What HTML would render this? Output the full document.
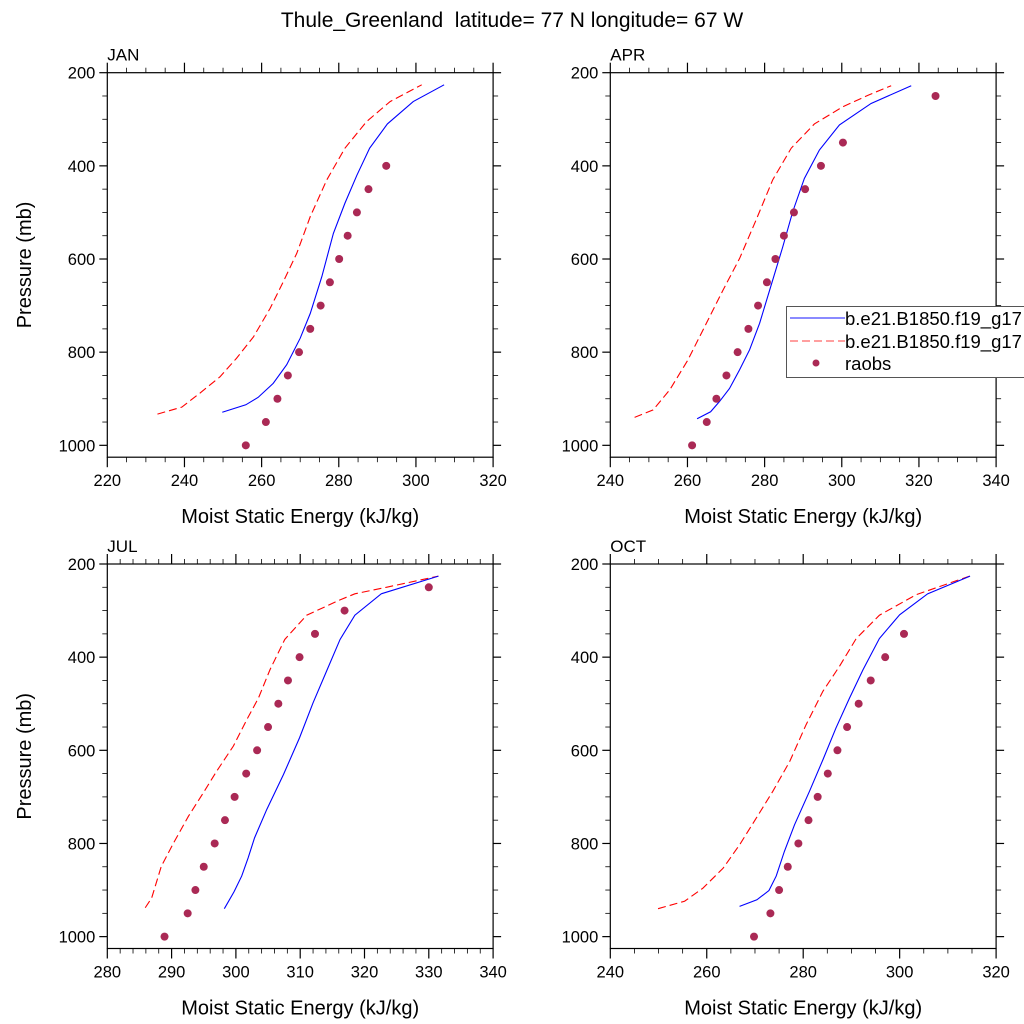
<!DOCTYPE html>
<html><head><meta charset="utf-8"><style>
html,body{margin:0;padding:0;background:#fff}
svg{display:block;font-family:"Liberation Sans",sans-serif}
</style></head><body>
<svg id="chart" width="1024" height="1024" viewBox="0 0 1024 1024" xmlns="http://www.w3.org/2000/svg">
<text x="512" y="27" font-size="21" text-anchor="middle" xml:space="preserve" style="white-space:pre">Thule_Greenland  latitude= 77 N longitude= 67 W</text>
</svg>
<script>
// Shared
const pressureTicks = [200, 400, 600, 800, 1000];
const raobsP_JAN = [400,450,500,550,600,650,700,750,800,850,900,950,1000];
const raobsV_JAN = [292.3,287.7,284.7,282.3,280.1,277.7,275.3,272.6,269.7,266.8,264.1,261.1,255.9];
const blueP_JAN = [929,913,897,867,827,770,717,638,545,480,420,362,310,262,226];
const blueV_JAN = [249.8,255.9,259.1,263.0,266.5,270.0,272.6,275.6,278.6,281.6,284.7,288.0,292.6,299.3,307.3];
const redP_JAN = [933,918,888,853,813,767,706,649,588,509,430,362,305,262,226];
const redV_JAN = [233.0,239.3,244.0,249.2,253.5,257.9,262.2,265.6,269.1,272.6,276.9,281.6,287.2,293.3,301.5];
const xTicks_JAN = [220,240,260,280,300,320];

const raobsP_APR = [250,350,400,450,500,550,600,650,700,750,800,850,900,950,1000];
const raobsV_APR = [324.3,300.3,294.6,290.5,287.6,285.0,282.8,280.6,278.3,275.8,273.0,270.1,267.5,265.0,261.2];
const blueP_APR = [943,928,906,878,838,795,738,667,574,498,427,366,312,266,228];
const blueV_APR = [262.5,266.0,268.3,270.9,273.5,276.1,278.7,281.3,284.7,287.3,290.3,294.2,299.4,307.6,318.0];
const redP_APR = [940,924,881,817,738,667,599,516,430,362,310,273,247,228];
const redV_APR = [246.3,251.1,255.4,260.1,264.9,269.2,273.5,277.8,282.1,286.9,292.9,300.3,307.2,312.8];
const xTicks_APR = [240,260,280,300,320,340];

const raobsP_JUL = [250,300,350,400,450,500,550,600,650,700,750,800,850,900,950,1000];
const raobsV_JUL = [330.0,316.9,312.3,309.9,308.1,306.6,305.0,303.3,301.6,299.8,298.3,296.7,295.0,293.7,292.5,288.9];
const blueP_JUL = [940,904,870,831,788,727,652,573,498,430,362,310,264,226];
const blueV_JUL = [298.2,299.7,300.9,301.9,302.9,304.8,307.4,309.9,312.0,314.1,316.2,318.5,322.6,331.5];
const redP_JUL = [938,917,849,799,742,692,645,591,534,488,427,362,310,277,264,250,226];
const redV_JUL = [285.9,286.9,288.4,290.3,292.6,294.9,297.0,299.6,301.7,303.5,305.3,307.6,311.0,316.2,318.5,323.4,331.5];
const xTicks_JUL = [280,290,300,310,320,330,340];

const raobsP_OCT = [350,400,450,500,550,600,650,700,750,800,850,900,950,1000];
const raobsV_OCT = [300.9,297.0,294.0,291.5,289.1,287.1,285.1,283.0,281.1,279.0,276.8,275.0,273.2,269.8];
const blueP_OCT = [935,921,901,870,817,760,688,620,552,488,427,360,309,264,226];
const blueV_OCT = [266.8,270.4,272.9,274.4,276.1,278.2,281.3,284.1,286.8,289.6,292.4,295.8,300.0,305.8,314.6];
const redP_OCT = [940,924,896,853,803,745,688,624,545,473,420,360,310,266,226];
const redV_OCT = [249.9,255.4,259.2,263.4,266.8,270.3,273.7,277.2,280.6,284.1,287.5,291.0,295.8,303.4,314.5];
const xTicks_OCT = [240,260,280,300,320];

const NS='http://www.w3.org/2000/svg';
const svg=document.getElementById('chart');
function mk(tag,attrs,parent){const e=document.createElementNS(NS,tag);for(const k in attrs)e.setAttribute(k,attrs[k]);(parent||svg).appendChild(e);return e;}

function panel(cfg){
  const L=cfg.x, R=cfg.x+385.8, T=cfg.y, B=cfg.y+384.5;
  const pMin=200, pMax=1025.5;
  const xs=v=>L+(v-cfg.xmin)/(cfg.xmax-cfg.xmin)*(R-L);
  const ys=p=>T+(p-pMin)/(pMax-pMin)*(B-T);
  const g=mk('g',{});
  
  
  const box=mk('rect',{x:L,y:T,width:R-L,height:B-T,fill:'none',stroke:'#000','stroke-width':1.2},g);
  
  
  const n=Math.round((cfg.xmax-cfg.xmin)/cfg.minor);
  const per=Math.round(cfg.major/cfg.minor);
  for(let i=0;i<=n;i++){
    const v=cfg.xmin+i*cfg.minor;
    const isMaj=i%per===0;
    const len=isMaj?10:5, x=xs(v);
    mk('line',{x1:x,x2:x,y1:B,y2:B+len,stroke:'#000','stroke-width':isMaj?1.2:0.8},g);
    mk('line',{x1:x,x2:x,y1:T,y2:T-len,stroke:'#000','stroke-width':isMaj?1.2:0.8},g);
  }
  cfg.ticks.forEach(v=>{
    const t=mk('text',{x:xs(v),y:B+29,'font-size':16.5,'text-anchor':'middle'},g);
    t.textContent=v;
    
    
  });
  for(let p=200;p<=1000;p+=50){
    const isMaj=p%200===0, len=isMaj?8:5, y=ys(p);
    mk('line',{x1:L,x2:L-len,y1:y,y2:y,stroke:'#000','stroke-width':isMaj?1.2:0.8},g);
    mk('line',{x1:R,x2:R+len,y1:y,y2:y,stroke:'#000','stroke-width':isMaj?1.2:0.8},g);
  }
  pressureTicks.forEach(p=>{
    const t=mk('text',{x:L-12,y:ys(p)+6,'font-size':16.5,'text-anchor':'end'},g);
    t.textContent=p;
    
    
  });
  const lab=mk('text',{x:L,y:T-12,'font-size':17},g);
  lab.textContent=cfg.name;
  
  
  const xt=mk('text',{x:(L+R)/2,y:B+66,'font-size':20,'text-anchor':'middle'},g);
  xt.textContent='Moist Static Energy (kJ/kg)';
  
  
  if(cfg.ytitle){
    const cy=(T+B)/2;
    const yt=mk('text',{x:0,y:0,'font-size':20,'text-anchor':'middle',transform:`translate(31,${cy}) rotate(-90)`},g);
    yt.textContent='Pressure (mb)';
    
    
  }
  const red=mk('polyline',{points:cfg.redV.map((v,i)=>xs(v)+','+ys(cfg.redP[i])).join(' '),fill:'none',stroke:'#ff0000','stroke-width':1.1,'stroke-dasharray':'8,4'},g);
  
  
  const blue=mk('polyline',{points:cfg.blueV.map((v,i)=>xs(v)+','+ys(cfg.blueP[i])).join(' '),fill:'none',stroke:'#0000ff','stroke-width':1.1},g);
  
  
  cfg.rV.forEach((v,i)=>{
    const c=mk('circle',{cx:xs(v),cy:ys(cfg.rP[i]),r:4,fill:'#aa2955'},g);
    
    
  });
}
panel({name:'JAN',x:107.3,y:72.7,xmin:220,xmax:320,major:20,minor:5,ticks:xTicks_JAN,ytitle:true,rP:raobsP_JAN,rV:raobsV_JAN,blueP:blueP_JAN,blueV:blueV_JAN,redP:redP_JAN,redV:redV_JAN});
panel({name:'APR',x:610.3,y:72.7,xmin:240,xmax:340,major:20,minor:5,ticks:xTicks_APR,ytitle:false,rP:raobsP_APR,rV:raobsV_APR,blueP:blueP_APR,blueV:blueV_APR,redP:redP_APR,redV:redV_APR});
panel({name:'JUL',x:107.3,y:564,xmin:280,xmax:340,major:10,minor:2,ticks:xTicks_JUL,ytitle:true,rP:raobsP_JUL,rV:raobsV_JUL,blueP:blueP_JUL,blueV:blueV_JUL,redP:redP_JUL,redV:redV_JUL});
panel({name:'OCT',x:610.3,y:564,xmin:240,xmax:320,major:20,minor:5,ticks:xTicks_OCT,ytitle:false,rP:raobsP_OCT,rV:raobsV_OCT,blueP:blueP_OCT,blueV:blueV_OCT,redP:redP_OCT,redV:redV_OCT});
</script>
<svg style="position:absolute;left:0;top:0" width="1024" height="1024">
<g font-family="Liberation Sans, sans-serif" font-size="18.5">
<rect x="786.5" y="306.5" width="250" height="71" fill="#fff" stroke="#555" stroke-width="1"/>
<line x1="790" x2="845" y1="318" y2="318" stroke="#4444ff" stroke-width="1.2"/>
<text x="845" y="325">b.e21.B1850.f19_g17</text>
<line x1="790" x2="845" y1="341" y2="341" stroke="#ff6666" stroke-width="1.2" stroke-dasharray="8,4"/>
<text x="845" y="348">b.e21.B1850.f19_g17</text>
<circle cx="816" cy="363" r="3.5" fill="#aa2955"/>
<text x="845" y="370">raobs</text>
</g>
</svg>
</body></html>
